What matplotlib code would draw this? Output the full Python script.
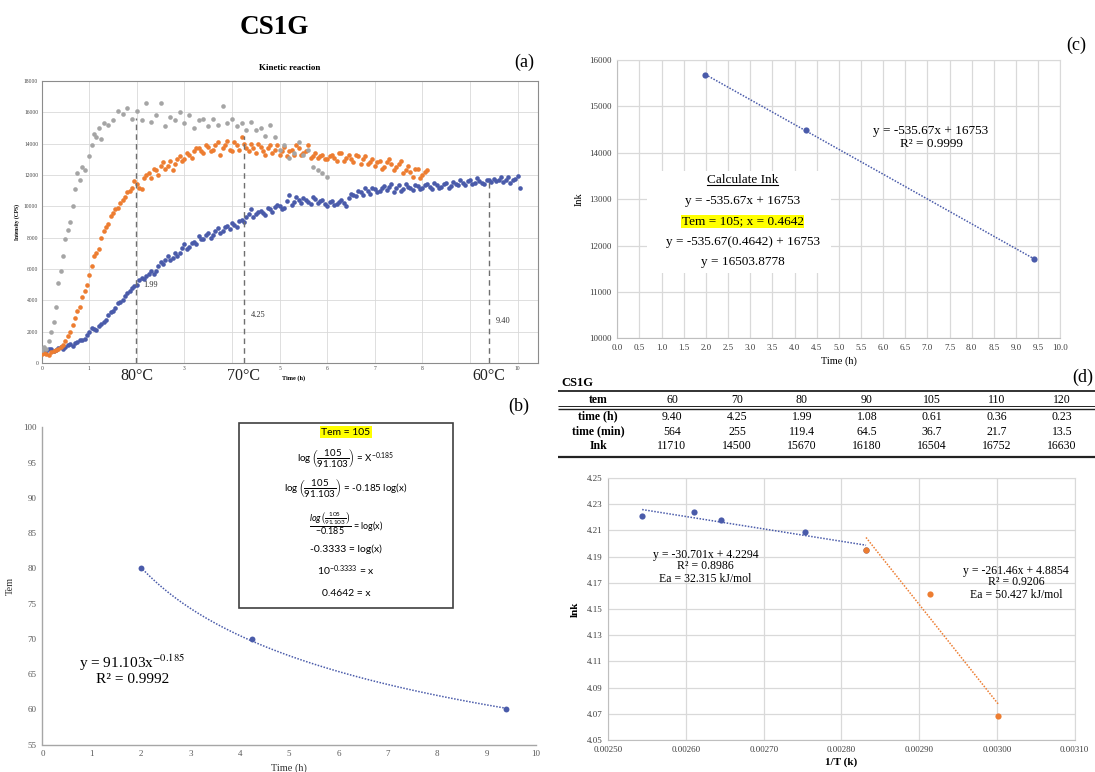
import matplotlib
matplotlib.use("Agg")
import matplotlib.pyplot as plt
import numpy as np
from matplotlib.patches import Rectangle
from matplotlib.transforms import blended_transform_factory

W, H = 1095, 772
SERIF = "Liberation Serif"
BLUE = "#4A5BAA"
ORANGE = "#ED7D31"
GRAY = "#A5A5A5"
GRID = "#d9d9d9"

plt.rcParams["font.family"] = SERIF
plt.rcParams["mathtext.fontset"] = "custom"
plt.rcParams["mathtext.rm"] = "Lato"
plt.rcParams["mathtext.it"] = "Lato:italic"
plt.rcParams["mathtext.bf"] = "Lato:bold"

# --- summary table (d) ---
tem = [60, 70, 80, 90, 105, 110, 120]
time_h = [9.40, 4.25, 1.99, 1.08, 0.61, 0.36, 0.23]
time_min = [564, 255, 119.4, 64.5, 36.7, 21.7, 13.5]
ink = [11710, 14500, 15670, 16180, 16504, 16752, 16630]

# --- Arrhenius plot (d), same order as tem ---
inv_T = [0.0030017, 0.0029142, 0.0028317, 0.0027537, 0.0026445, 0.0026099, 0.0025436]
ln_k = [4.0686, 4.1614, 4.1951, 4.2090, 4.2176, 4.2241, 4.2209]

# --- kinetic reaction (a) ---
t60 = [0.0, 0.1, 0.2, 0.3, 0.4, 0.5, 0.6, 0.7, 0.8, 0.9, 1.0, 1.1, 1.2, 1.3, 1.4,
       1.5, 1.6, 1.7, 1.8, 1.9, 2.0, 2.1, 2.2, 2.3, 2.4, 2.5, 2.6, 2.7, 2.8, 2.9,
       3.0, 3.1, 3.2, 3.3, 3.4, 3.5, 3.6, 3.7, 3.8, 3.9, 4.0, 4.1, 4.2, 4.3, 4.4,
       4.5, 4.6, 4.7, 4.8, 4.9, 5.0, 5.1, 5.2, 5.3, 5.4, 5.5, 5.6, 5.7, 5.8, 5.9,
       6.0, 6.1, 6.2, 6.3, 6.4, 6.5, 6.6, 6.7, 6.8, 6.9, 7.0, 7.1, 7.2, 7.3, 7.4,
       7.5, 7.6, 7.7, 7.8, 7.9, 8.0, 8.1, 8.2, 8.3, 8.4, 8.5, 8.6, 8.7, 8.8, 8.9,
       9.0, 9.1, 9.2, 9.3, 9.4, 9.5, 9.6, 9.7, 9.8, 9.9, 10.0, 10.05]
i60 = [850, 780, 900, 820, 1050, 1000, 1200, 1250, 1450, 1550, 2000, 2150, 2350, 2600, 3050,
       3300, 3800, 4050, 4500, 4800, 4950, 5450, 5550, 5850, 5900, 6450, 6550, 6600, 7050, 7000,
       7600, 7400, 7750, 8100, 7900, 8300, 8200, 8600, 8400, 8750, 8950, 8700, 9150, 9300, 9850,
       9500, 9700, 9450, 9800, 9950, 10050, 9900, 10700, 10250, 10400, 10550, 10300, 10600, 10200, 10400,
       10000, 10350, 10150, 10400, 10050, 10800, 10650, 10900, 11200, 10800, 11100, 10950, 11300, 11250, 10900,
       11350, 11100, 11250, 11050, 11300, 11200, 11400, 11100, 11350, 11250, 11500, 11300, 11450, 11650, 11350,
       11700, 11500, 11600, 11450, 11650, 11750, 11700, 11550, 11850, 11650, 11950, 11200]
# in-between readings of the same 60 °C run
t60_mid = [0.05, 0.15, 0.25, 0.35, 0.45, 0.55, 0.65, 0.75, 0.85, 0.95,
           1.05, 1.15, 1.25, 1.35, 1.45, 1.55, 1.65, 1.75, 1.85, 1.95,
           2.05, 2.15, 2.25, 2.35, 2.45, 2.55, 2.65, 2.75, 2.85, 2.95,
           3.05, 3.15, 3.25, 3.35, 3.45, 3.55, 3.65, 3.75, 3.85, 3.95,
           4.05, 4.15, 4.25, 4.35, 4.45, 4.55, 4.65, 4.75, 4.85, 4.95,
           5.05, 5.15, 5.25, 5.35, 5.45, 5.55, 5.65, 5.75, 5.85, 5.95,
           6.05, 6.15, 6.25, 6.35, 6.45, 6.55, 6.65, 6.75, 6.85, 6.95,
           7.05, 7.15, 7.25, 7.35, 7.45, 7.55, 7.65, 7.75, 7.85, 7.95,
           8.05, 8.15, 8.25, 8.35, 8.45, 8.55, 8.65, 8.75, 8.85, 8.95,
           9.05, 9.15, 9.25, 9.35, 9.45, 9.55, 9.65, 9.75, 9.85, 9.95]
i60_mid = [700, 900, 750, 950, 900, 1150, 1100, 1350, 1500, 1800,
           2250, 2100, 2500, 2750, 3250, 3500, 3900, 4300, 4600, 4900,
           5300, 5350, 5700, 5650, 6200, 6300, 6800, 6700, 6850, 7350,
           7300, 7650, 7600, 7900, 8200, 7950, 8450, 8300, 8650, 8550,
           8800, 9050, 9000, 9500, 9300, 9650, 9550, 9900, 9650, 10100,
           9800, 10350, 10100, 10600, 10200, 10400, 10150, 10450, 10350, 10150,
           10300, 10100, 10250, 10200, 10500, 10700, 10950, 10700, 10950, 11150,
           10900, 11200, 11050, 11400, 11150, 11000, 11400, 11150, 11350, 11100,
           11350, 11250, 11500, 11200, 11400, 11200, 11550, 11350, 11500, 11600,
           11400, 11800, 11500, 11700, 11550, 11600, 11850, 11650, 11500, 11750]

t70 = [0.0, 0.1, 0.2, 0.3, 0.4, 0.5, 0.6, 0.7, 0.8, 0.9, 1.0, 1.1, 1.2, 1.3, 1.4,
       1.5, 1.6, 1.7, 1.8, 1.9, 2.0, 2.1, 2.2, 2.3, 2.4, 2.5, 2.6, 2.7, 2.8, 2.9,
       3.0, 3.1, 3.2, 3.3, 3.4, 3.5, 3.6, 3.7, 3.8, 3.9, 4.0, 4.1, 4.2, 4.3, 4.4,
       4.5, 4.6, 4.7, 4.8, 4.9, 5.0, 5.1, 5.2, 5.3, 5.4, 5.5, 5.6, 5.7, 5.8, 5.9,
       6.0, 6.1, 6.2, 6.3, 6.4, 6.5, 6.6, 6.7, 6.8, 6.9, 7.0, 7.1, 7.2, 7.3, 7.4,
       7.5, 7.6, 7.7, 7.8, 7.9, 8.0, 8.1]
i70 = [550, 600, 700, 800, 1000, 1400, 2000, 2900, 3600, 4600, 5600, 6800, 7300, 8400, 8900,
       9600, 9900, 10400, 10900, 11200, 11400, 11100, 12000, 11800, 12300, 12600, 12400, 12900, 12700, 13200,
       13000, 13300, 13500, 13700, 13400, 13800, 13600, 14100, 13700, 14200, 13500, 13900, 14400, 13700, 14000,
       13400, 13800, 13300, 13900, 13600, 13300, 13800, 13500, 13300, 13700, 13400, 13900, 13200, 13100, 13300,
       13000, 13300, 12900, 13400, 13100, 13000, 13300, 12700, 13200, 12800, 12600, 12900, 12500, 13000, 12300,
       12700, 12100, 12600, 11900, 12400, 12000, 12300]
t70_mid = [0.05, 0.15, 0.25, 0.35, 0.45, 0.55, 0.65, 0.75, 0.85, 0.95,
           1.05, 1.15, 1.25, 1.35, 1.45, 1.55, 1.65, 1.75, 1.85, 1.95,
           2.05, 2.15, 2.25, 2.35, 2.45, 2.55, 2.65, 2.75, 2.85, 2.95,
           3.05, 3.15, 3.25, 3.35, 3.45, 3.55, 3.65, 3.75, 3.85, 3.95,
           4.05, 4.15, 4.25, 4.35, 4.45, 4.55, 4.65, 4.75, 4.85, 4.95,
           5.05, 5.15, 5.25, 5.35, 5.45, 5.55, 5.65, 5.75, 5.85, 5.95,
           6.05, 6.15, 6.25, 6.35, 6.45, 6.55, 6.65, 6.75, 6.85, 6.95,
           7.05, 7.15, 7.25, 7.35, 7.45, 7.55, 7.65, 7.75, 7.85, 7.95, 8.05]
i70_mid = [650, 500, 750, 900, 1150, 1700, 2400, 3300, 4200, 5000,
           6200, 7000, 8000, 8700, 9400, 9800, 10200, 10600, 11000, 11600,
           11200, 11800, 12100, 12400, 12000, 12800, 12600, 12300, 13000, 12900,
           13400, 13100, 13700, 13500, 13900, 13500, 13900, 13300, 13900, 13600,
           14100, 13600, 14000, 13500, 13700, 14000, 13500, 13700, 13400, 13900,
           13500, 13200, 13600, 13900, 13300, 13500, 13100, 13400, 13200, 13000,
           13200, 13100, 13400, 12900, 13300, 12800, 13200, 13000, 12700, 13000,
           12800, 12400, 12800, 12700, 12500, 12900, 12300, 12200, 12400, 11800, 12200]

t80 = [0.0, 0.05, 0.1, 0.15, 0.2, 0.25, 0.3, 0.35, 0.4, 0.45, 0.5, 0.55, 0.6, 0.65, 0.7,
       0.75, 0.8, 0.85, 0.9, 1.0, 1.05, 1.1, 1.15, 1.2, 1.25, 1.3, 1.4, 1.5, 1.6, 1.7,
       1.8, 1.9, 2.0, 2.1, 2.2, 2.3, 2.4, 2.5, 2.6, 2.7, 2.8, 2.9, 3.0, 3.1, 3.2,
       3.3, 3.4, 3.5, 3.6, 3.7, 3.8, 3.9, 4.0, 4.1, 4.2, 4.3, 4.4, 4.5, 4.6, 4.7,
       4.8, 4.9, 5.0, 5.1, 5.2, 5.3, 5.4, 5.5, 5.6, 5.7, 5.8, 5.9, 6.0]
i80 = [800, 1000, 900, 1400, 2000, 2600, 3600, 5100, 5900, 6800, 7900, 8500, 9000, 10000, 11100,
       12100, 11700, 12500, 12300, 13200, 13900, 14600, 14400, 15000, 14300, 15300, 15200, 15500, 16100, 15900,
       16300, 15600, 16100, 15500, 16600, 15400, 15800, 16600, 15100, 15700, 15500, 16000, 15300, 15800, 15000,
       15500, 15600, 15100, 15600, 15200, 16400, 15300, 15600, 15100, 15300, 14900, 15400, 14900, 15000, 14500,
       15200, 14400, 13600, 13900, 13100, 13400, 14100, 13300, 13600, 12500, 12300, 12100, 11900]


def px_axes(fig, left, top, right, bottom):
    return fig.add_axes([left / W, 1 - bottom / H, (right - left) / W, (bottom - top) / H])


def fig_text(fig, x, y, s, **kw):
    kw.setdefault("ha", "center")
    kw.setdefault("va", "center")
    return fig.text(x / W, 1 - y / H, s, **kw)


def draw_kinetics(fig):
    ax = px_axes(fig, 41.7, 81, 538, 363)
    ax.scatter(t60 + t60_mid, i60 + i60_mid, s=11, color=BLUE, linewidths=0, zorder=3)
    ax.scatter(t70 + t70_mid, i70 + i70_mid, s=11, color=ORANGE, linewidths=0, zorder=3)
    ax.scatter(t80, i80, s=11, color=GRAY, linewidths=0, zorder=3)
    ax.set_xlim(0, 10.43)
    ax.set_ylim(0, 18000)
    ax.set_xticks(range(11))
    ax.set_xticklabels(["" if i in (2, 4, 9) else str(i) for i in range(11)])
    ax.set_yticks(range(0, 18001, 2000))
    ax.grid(color=GRID, lw=0.6)
    ax.set_axisbelow(True)
    ax.tick_params(length=0, labelsize=4, colors="#444444", pad=2.5)
    for sp in ax.spines.values():
        sp.set_color("#8c8c8c")
        sp.set_linewidth(0.8)

    trans = blended_transform_factory(ax.transData, ax.transAxes)
    label_y = [2700, 3050, 4950]
    for t, k, T, ly in zip(time_h[:3], ink[:3], tem[:3], label_y):
        ax.vlines(t, 0, k, colors="#6f6f6f", linestyles=(0, (4, 3)), lw=1, zorder=4)
        ax.text(t + 0.15, ly, f"{t:.2f}", fontsize=6, color="#333333", va="center")
        ax.text(t, -0.047, f"{T}°C", transform=trans, fontsize=11.5,
                ha="center", va="center", color="#222222")
    ax.text(5.3, -0.055, "Time (h)", transform=trans, fontsize=4.5,
            fontweight="bold", ha="center", va="center")
    ax.set_ylabel("Intensity (CPS)", fontsize=4, fontweight="bold", labelpad=3)
    ax.set_title("Kinetic reaction", fontsize=6.5, fontweight="bold", pad=8)


def draw_power_fit(fig):
    ax = px_axes(fig, 42.4, 427.5, 536, 744.5)
    x = np.array(time_h[:3])
    y = np.array(tem[:3])
    ax.scatter(x, y, s=18, color=BLUE, linewidths=0, zorder=3)
    b, a = np.polyfit(np.log(x), np.log(y), 1)
    xs = np.linspace(x.min(), x.max(), 120)
    ax.plot(xs, np.exp(a) * xs ** b, ls=(0, (1, 1)), color=BLUE, lw=1.1)
    ax.set_xlim(0, 10)
    ax.set_ylim(55, 100)
    ax.set_xticks(range(11))
    ax.set_yticks(range(55, 101, 5))
    ax.tick_params(length=0, labelsize=6.5, colors="#595959", pad=4)
    for side in ("top", "right"):
        ax.spines[side].set_visible(False)
    for side in ("left", "bottom"):
        ax.spines[side].set_color("#a6a6a6")
        ax.spines[side].set_linewidth(1.0)
    ax.set_xlabel("Time (h)", fontsize=7.5, color="#333333", labelpad=4)
    ax.set_ylabel("Tem", fontsize=7.5, color="#333333", labelpad=6)

    ax.text(1.82, 66.6, r"y = 91.103x$^{-0.185}$", fontsize=11, ha="center",
            va="center", math_fontfamily="stix")
    ax.text(1.82, 64.2, "R² = 0.9992", fontsize=11, ha="center", va="center")

    ax.add_patch(Rectangle((3.98, 74.4), 4.33, 26.2, facecolor="white",
                           edgecolor="#404040", lw=1.2, clip_on=False, zorder=5))
    lines = [
        "Tem = 105",
        r"$\log\left(\dfrac{105}{91.103}\right)$ = X$^{-0.185}$",
        r"$\log\left(\dfrac{105}{91.103}\right)$ = -0.185 log(x)",
        r"$\dfrac{\mathit{log}\left(\frac{105}{91.103}\right)}{-0.185}$ = log(x)",
        "-0.3333 = log(x)",
        r"10$^{-0.3333}$ = x",
        "0.4642 = x",
    ]
    ys = [99.36, 95.67, 91.41, 86.3, 82.75, 79.63, 76.5]
    sizes = [7.5, 7.0, 7.0, 6.5, 7.5, 7.5, 7.5]
    for i, (s, yy, fs) in enumerate(zip(lines, ys, sizes)):
        kw = {}
        if i == 0:
            kw["bbox"] = dict(facecolor="#FFFF00", edgecolor="none", pad=0.8)
        ax.text(6.15, yy, s, fontsize=fs, family="Lato", math_fontfamily="custom",
                ha="center", va="center", zorder=6, clip_on=False, **kw)


def draw_linear_fit(fig):
    ax = px_axes(fig, 617.3, 60, 1060.3, 338.3)
    x = np.array(time_h[:3])
    y = np.array(ink[:3])
    ax.scatter(x, y, s=20, color=BLUE, linewidths=0, zorder=4)
    m, c = np.polyfit(x, y, 1)
    xs = np.array([x.min(), x.max()])
    ax.plot(xs, m * xs + c, ls=(0, (1, 1)), color=BLUE, lw=1.1, zorder=3)
    ax.set_xlim(0, 10)
    ax.set_ylim(10000, 16000)
    xt = np.arange(0, 10.01, 0.5)
    ax.set_xticks(xt)
    ax.set_xticklabels([f"{v:.1f}" for v in xt])
    ax.set_yticks(range(10000, 16001, 1000))
    ax.grid(color=GRID, lw=0.9)
    ax.set_axisbelow(True)
    ax.tick_params(length=0, labelsize=6.5, colors="#404040", pad=4)
    for sp in ax.spines.values():
        sp.set_color(GRID)
    for side in ("left", "bottom"):
        ax.spines[side].set_color("#bfbfbf")
    ax.set_xlabel("Time (h)", fontsize=7.5, labelpad=3)
    ax.set_ylabel("Ink", fontsize=7.5, labelpad=4)

    ax.text(7.08, 14464, "y = -535.67x + 16753", fontsize=9.5, ha="center", va="center")
    ax.text(7.08, 14188, "R² = 0.9999", fontsize=9.5, ha="center", va="center")

    ax.add_patch(Rectangle((0.68, 11400), 4.14, 2200, facecolor="white",
                           edgecolor="none", zorder=2))
    head = ax.text(2.83, 13413, "Calculate Ink", fontsize=9.5,
                   ha="center", va="center", zorder=5)
    renderer = fig.canvas.get_renderer()
    bb = head.get_window_extent(renderer).transformed(ax.transData.inverted())
    ax.plot([bb.x0, bb.x1], [bb.y0 + 20, bb.y0 + 20], color="black", lw=0.8, zorder=5)
    ax.text(2.83, 12957, "y = -535.67x + 16753", fontsize=9.5, ha="center", va="center", zorder=5)
    ax.text(2.83, 12522, "Tem = 105; x = 0.4642", fontsize=9.5, ha="center", va="center",
            zorder=5, bbox=dict(facecolor="#FFFF00", edgecolor="none", pad=0.6))
    ax.text(2.83, 12072, "y = -535.67(0.4642) + 16753", fontsize=9.5, ha="center",
            va="center", zorder=5)
    ax.text(2.83, 11638, "y = 16503.8778", fontsize=9.5, ha="center", va="center", zorder=5)


def draw_table(fig):
    ax = px_axes(fig, 555, 370, 1095, 462)
    ax.set_xlim(555, 1095)
    ax.set_ylim(462, 370)
    ax.axis("off")
    ax.text(561, 383, "CS1G", fontsize=9, fontweight="bold", ha="left", va="center")
    ax.hlines(390.7, 558, 1095, color="#222222", lw=1.3)
    ax.hlines([406, 408.5], 558, 1095, color="#222222", lw=[0.7, 1.0])
    ax.hlines(457, 558, 1095, color="#222222", lw=1.6)

    rows = [
        ("tem", [str(v) for v in tem], 400),
        ("time (h)", [f"{v:.2f}" for v in time_h], 416.7),
        ("time (min)", [f"{v:g}" for v in time_min], 431.7),
        ("Ink", [str(v) for v in ink], 446),
    ]
    for label, vals, yy in rows:
        ax.text(598, yy, label, fontsize=8.5, fontweight="bold", ha="center", va="center")
        for j, s in enumerate(vals):
            ax.text(672 + 65 * j, yy, s, fontsize=8.5, ha="center", va="center")


def draw_arrhenius(fig):
    ax = px_axes(fig, 608.3, 478, 1074.5, 740)
    x = np.array(inv_T)
    y = np.array(ln_k)
    hi = slice(2, 7)
    lo = slice(0, 3)
    ax.scatter(x[hi], y[hi], s=20, color=BLUE, linewidths=0, zorder=4)
    ax.scatter(x[lo], y[lo], s=20, color=ORANGE, linewidths=0, zorder=5)
    for sl, col in ((hi, BLUE), (lo, ORANGE)):
        m, c = np.polyfit(x[sl], y[sl], 1)
        xs = np.array([x[sl].min(), x[sl].max()])
        ax.plot(xs, m * xs + c, ls=(0, (1, 1)), color=col, lw=1.1, zorder=3)
    ax.set_xlim(0.0025, 0.0031)
    ax.set_ylim(4.05, 4.25)
    xt = np.linspace(0.0025, 0.0031, 7)
    ax.set_xticks(xt)
    ax.set_xticklabels([f"{v:.5f}" for v in xt])
    yt = np.linspace(4.05, 4.25, 11)
    ax.set_yticks(yt)
    ax.set_yticklabels([f"{v:.2f}" for v in yt])
    ax.grid(color=GRID, lw=0.9)
    ax.set_axisbelow(True)
    ax.tick_params(length=0, labelsize=6.5, colors="#404040", pad=4)
    for sp in ax.spines.values():
        sp.set_color(GRID)
    for side in ("left", "bottom"):
        ax.spines[side].set_color("#bfbfbf")
    ax.set_xlabel("1/T (k)", fontsize=8, fontweight="bold", labelpad=3)
    ax.set_ylabel("lnk", fontsize=8, fontweight="bold", labelpad=5)

    for yy, s in zip([4.1915, 4.1832, 4.1730],
                     ["y = -30.701x + 4.2294", "R² = 0.8986", "Ea = 32.315 kJ/mol"]):
        ax.text(0.002625, yy, s, fontsize=8.5, ha="center", va="center")
    for yy, s in zip([4.1791, 4.1705, 4.1604],
                     ["y = -261.46x + 4.8854", "R² = 0.9206", "Ea = 50.427 kJ/mol"]):
        ax.text(0.003025, yy, s, fontsize=8.5, ha="center", va="center")


def build_figure():
    fig = plt.figure(figsize=(W / 100, H / 100), dpi=100)
    fig_text(fig, 274, 27, "CS1G", fontsize=19.5, fontweight="bold")
    draw_kinetics(fig)
    draw_power_fit(fig)
    draw_linear_fit(fig)
    draw_table(fig)
    draw_arrhenius(fig)
    fig_text(fig, 524, 62, "(a)", fontsize=13)
    fig_text(fig, 519, 406, "(b)", fontsize=13)
    fig_text(fig, 1076, 45, "(c)", fontsize=13)
    fig_text(fig, 1083, 377, "(d)", fontsize=13)
    fig.savefig("out.png", dpi=100)
    plt.close(fig)


if __name__ == "__main__":
    build_figure()
